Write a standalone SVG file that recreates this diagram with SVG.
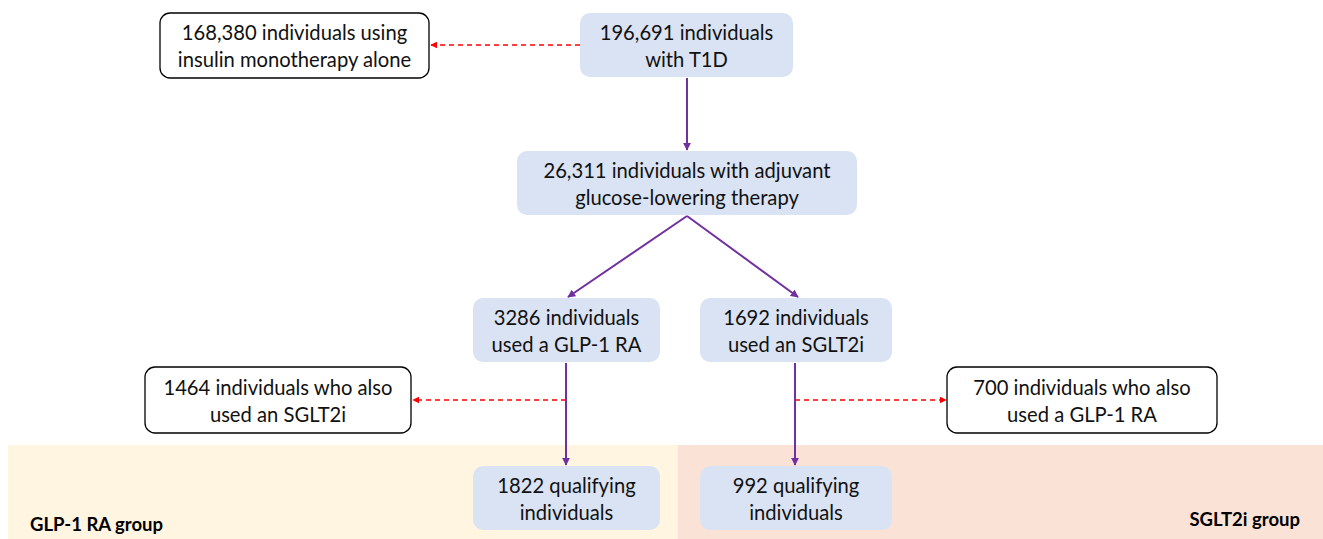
<svg xmlns="http://www.w3.org/2000/svg" width="1323" height="539" viewBox="0 0 1323 539">
<defs>
<style>
.t{font-family:Lato,"Open Sans","Liberation Sans",sans-serif;font-size:20.2px;fill:#111;text-anchor:middle}
.b{font-family:Lato,"Open Sans","Liberation Sans",sans-serif;font-size:18.5px;font-weight:bold;fill:#000}
.blue{fill:#DAE3F3;stroke:none}
.white{fill:#fff;stroke:#000;stroke-width:1.3}
.p{stroke:#7030A0;stroke-width:2;fill:none}
.r{stroke:#FF0000;stroke-width:1.3;stroke-dasharray:5,4;fill:none}
</style>
<marker id="mp" viewBox="0 0 10 10" refX="9" refY="5" markerWidth="8" markerHeight="8" orient="auto" markerUnits="userSpaceOnUse"><path d="M0,0L10,5L0,10z" fill="#7030A0"/></marker>
<marker id="mr" viewBox="0 0 10 10" refX="9" refY="5" markerWidth="7" markerHeight="7" orient="auto" markerUnits="userSpaceOnUse"><path d="M0,0L10,5L0,10z" fill="#FF0000"/></marker>
</defs>
<rect width="1323" height="539" fill="#fff"/>
<g id="bands">
<rect x="8" y="445" width="670" height="94" fill="#FFF5E1"/>
<rect x="678" y="445" width="645" height="94" fill="#FAE3D6"/>
<text class="b" x="30" y="531">GLP-1 RA group</text>
<text class="b" x="1300" y="526" text-anchor="end">SGLT2i group</text>
</g>
<g id="connectors">
<line class="r" x1="580" y1="45" x2="431" y2="45" marker-end="url(#mr)"/>
<line class="p" x1="687" y1="78" x2="687" y2="150" marker-end="url(#mp)"/>
<line class="p" x1="687" y1="216" x2="568" y2="297" marker-end="url(#mp)"/>
<line class="p" x1="687" y1="216" x2="798" y2="297" marker-end="url(#mp)"/>
<line class="r" x1="566" y1="400" x2="413" y2="400" marker-end="url(#mr)"/>
<line class="r" x1="795" y1="400" x2="946" y2="400" marker-end="url(#mr)"/>
<line class="p" x1="566" y1="363" x2="566" y2="465" marker-end="url(#mp)"/>
<line class="p" x1="795" y1="363" x2="795" y2="465" marker-end="url(#mp)"/>
</g>
<g id="n1">
<rect class="white" x="160" y="13" width="269" height="65" rx="10"/>
<text class="t" x="294.5" y="40">168,380 individuals using</text>
<text class="t" x="294.5" y="67">insulin monotherapy alone</text>
</g>
<g id="n2">
<rect class="blue" x="580" y="13" width="213" height="64" rx="10"/>
<text class="t" x="686.5" y="40">196,691 individuals</text>
<text class="t" x="686.5" y="67">with T1D</text>
</g>
<g id="n3">
<rect class="blue" x="517" y="151" width="340" height="64" rx="10"/>
<text class="t" x="687" y="178">26,311 individuals with adjuvant</text>
<text class="t" x="687" y="205">glucose-lowering therapy</text>
</g>
<g id="n4">
<rect class="blue" x="473" y="298" width="187" height="64" rx="10"/>
<text class="t" x="566.5" y="325">3286 individuals</text>
<text class="t" x="566.5" y="352">used a GLP-1 RA</text>
</g>
<g id="n5">
<rect class="blue" x="700" y="298" width="192" height="64" rx="10"/>
<text class="t" x="796" y="325">1692 individuals</text>
<text class="t" x="796" y="352">used an SGLT2i</text>
</g>
<g id="n6">
<rect class="white" x="145" y="367" width="266" height="66" rx="10"/>
<text class="t" x="278" y="395">1464 individuals who also</text>
<text class="t" x="278" y="422">used an SGLT2i</text>
</g>
<g id="n7">
<rect class="white" x="947" y="367" width="270" height="66" rx="10"/>
<text class="t" x="1082" y="395">700 individuals who also</text>
<text class="t" x="1082" y="422">used a GLP-1 RA</text>
</g>
<g id="n8">
<rect class="blue" x="473" y="466" width="187" height="64" rx="10"/>
<text class="t" x="566.5" y="493">1822 qualifying</text>
<text class="t" x="566.5" y="520">individuals</text>
</g>
<g id="n9">
<rect class="blue" x="700" y="466" width="192" height="64" rx="10"/>
<text class="t" x="796" y="493">992 qualifying</text>
<text class="t" x="796" y="520">individuals</text>
</g>
</svg>
